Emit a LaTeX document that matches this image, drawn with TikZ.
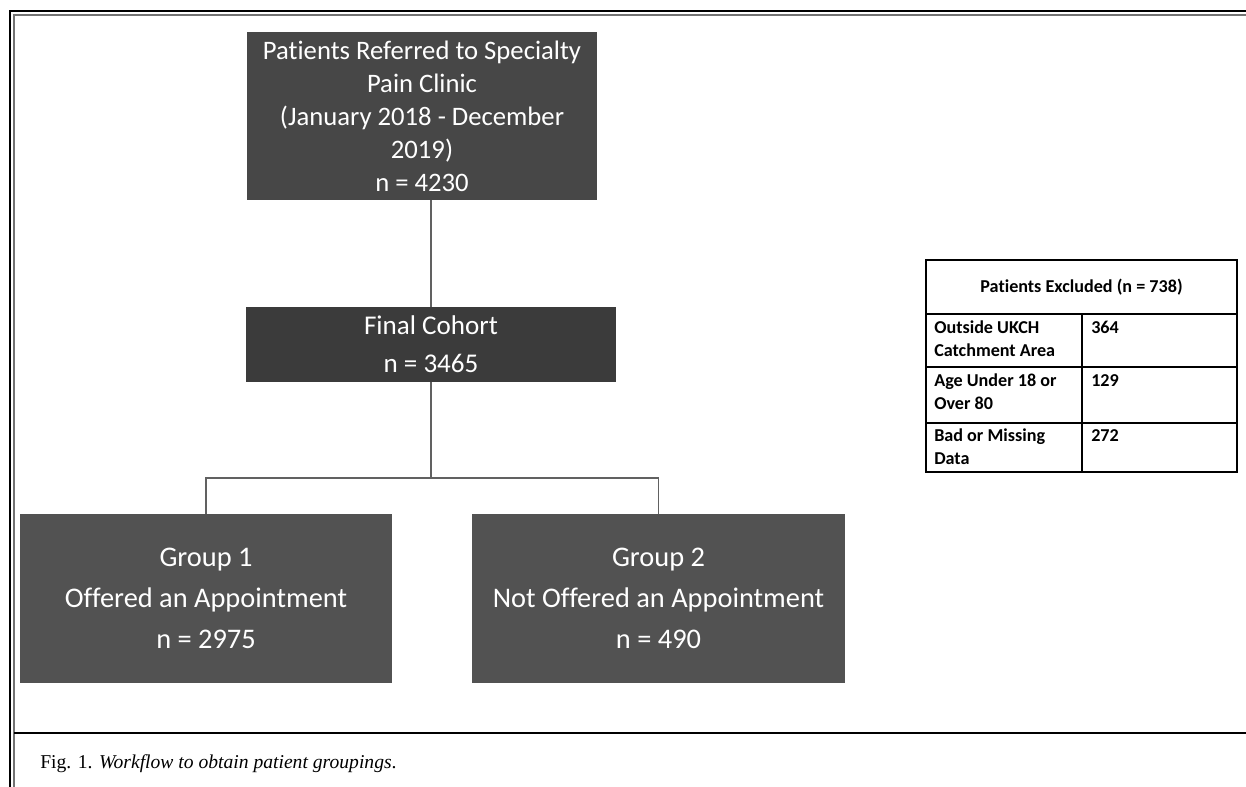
\documentclass[tikz,border=0pt]{standalone}
\usepackage{fontspec}
\setmainfont{Carlito}[Ligatures=NoCommon]
\newfontfamily\capfont{Liberation Serif}
\usetikzlibrary{positioning}
\tikzset{darkbox/.style={rectangle, fill=black!72, text=white, align=center, inner sep=0pt},
cellnode/.style={font=\bfseries\fontsize{13.6}{17}\selectfont, align=left, anchor=north west, inner sep=0pt},
link/.style={draw=black!62, line width=1.1pt},}

\begin{document}
\begin{tikzpicture}[x=0.75pt, y=-0.75pt]
\useasboundingbox (0,0) rectangle (1246,787);
% frame
\draw[line width=2pt] (10,787) -- (10,11) -- (1246,11);
\draw[black!55, line width=0.8pt] (14,787) -- (14,15) -- (1246,15);
\draw[line width=1.6pt] (14,733) -- (1246,733);
% flow boxes
\node [darkbox, minimum width=262.5pt, minimum height=126pt, font=\fontsize{20}{24.75}\selectfont] (refer) at (422,116)
  {Patients Referred to Specialty\\Pain Clinic\\(January 2018 - December\\2019)\\n = 4230};
\node [darkbox, fill=black!77, minimum width=278pt, minimum height=56pt, font=\fontsize{20.3}{28.5}\selectfont] (cohort) at (431,344.5)
  {Final Cohort\\n = 3465};
\node [darkbox, fill=black!68, minimum width=279pt, minimum height=127pt, font=\fontsize{21.3}{30.75}\selectfont] (group1) at (206,598.5)
  {Group 1\\Offered an Appointment\\n = 2975};
\node [darkbox, fill=black!68, minimum width=280pt, minimum height=127pt, font=\fontsize{21.3}{30.75}\selectfont] (group2) at (658.5,598.5)
  {Group 2\\Not Offered an Appointment\\n = 490};
\coordinate (split) at (431,478);
\draw[link] (refer.south -| split) -- (cohort.north);
\draw[link] (cohort.south) -- (split);
\draw[link] (group1.north) -- (group1.north |- split) -- (group2.north |- split) -- (group2.north);
% excluded table
\draw[line width=1.2pt] (926,260) rectangle (1237,472);
\draw[line width=1.2pt] (926,314) -- (1237,314);
\draw[line width=1.2pt] (926,367) -- (1237,367);
\draw[line width=1.2pt] (926,423) -- (1237,423);
\draw[line width=1.2pt] (1082,314) -- (1082,472);
\node [font=\bfseries\fontsize{13.6}{17}\selectfont] (excl) at (1081.5,287) {Patients Excluded (n = 738)};
\node [cellnode] (area) at (934,321) {Outside UKCH\\Catchment Area};
\node [cellnode] (areaN) at (1091,321) {364};
\node [cellnode] (age) at (934,374) {Age Under 18 or\\Over 80};
\node [cellnode] (ageN) at (1091,374) {129};
\node [cellnode] (data) at (934,429) {Bad or Missing\\Data};
\node [cellnode] (dataN) at (1091,429) {272};
% caption
\node [anchor=base west, inner sep=0pt, font=\capfont\fontsize{14.7}{17}\selectfont] (caption) at (40,768)
  {Fig. 1. \textit{Workflow to obtain patient groupings}.};
\end{tikzpicture}
\end{document}
